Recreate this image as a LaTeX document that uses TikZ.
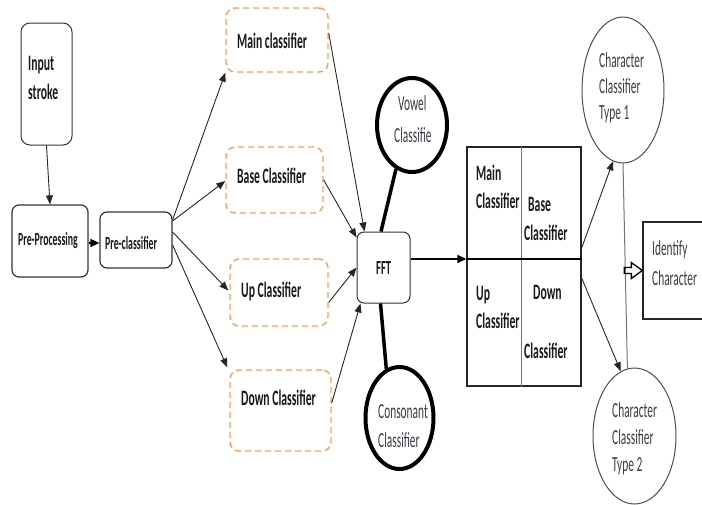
\documentclass[tikz,border=0pt]{standalone}
\usepackage{fontspec}
\setmainfont[FakeStretch=0.53]{Carlito}
\usetikzlibrary{arrows.meta,shapes.geometric}
\definecolor{dorange}{RGB}{246,160,90}
\definecolor{txtgray}{RGB}{60,60,70}
\tikzset{
  rbox/.style={draw=black!80, line width=1pt, rounded corners=7pt, inner sep=0pt},
  obox/.style={draw=dorange, line width=1.4pt, dash pattern=on 6pt off 4pt, rounded corners=9pt, inner sep=0pt},
  btxt/.style={inner sep=0pt, anchor=base west, font=\bfseries\fontsize{22}{26}\selectfont, text=black!90},
  stxt/.style={inner sep=0pt, anchor=base west, font=\bfseries\fontsize{18.5}{22}\selectfont, text=black!90},
  rtxt/.style={inner sep=0pt, anchor=base west, font=\fontsize{21.5}{26}\selectfont, text=txtgray},
  conn/.style={draw=black!85, line width=0.9pt, -{Triangle[length=9pt,width=7pt]}},
  tconn/.style={draw=black, line width=1.6pt, -{Triangle[length=9pt,width=8pt]}},
  thickc/.style={draw=black, line width=4pt},
  thickline/.style={draw=black, line width=3.5pt},
  gell/.style={ellipse, draw=black!70, line width=1pt, inner sep=0pt},
}
\begin{document}
\begin{tikzpicture}[x=1pt,y=-1pt]
\useasboundingbox (0,0) rectangle (702,504);
% left boxes
\node[rbox, minimum width=51pt, minimum height=122pt, rounded corners=9pt] (input) at (46.5,84) {};
\node[btxt] (tin1) at (28,70) {Input};
\node[btxt] (tin2) at (28,99) {stroke};
\node[rbox, line width=1.2pt, minimum width=76pt, minimum height=72pt] (prep) at (50,241) {};
\node[stxt] (tprep) at (18,245) {Pre-Processing};
\node[rbox, line width=1.2pt, minimum width=72pt, minimum height=56pt] (precl) at (136,240) {};
\node[stxt] (tprecl) at (105,249) {Pre-classifier};
\draw[conn] (input.south) -- (prep.north);
\draw[tconn, line width=1.4pt] ([yshift=-2pt]prep.east) -- ([yshift=-3pt]precl.west);
% orange dashed boxes
\node[obox, minimum width=102pt, minimum height=64pt] (main) at (277,40) {};
\node[btxt] (tmain) at (237,48) {Main classifier};
\node[obox, minimum width=97pt, minimum height=66pt] (base) at (274.5,180) {};
\node[btxt] (tbase) at (237,183) {Base Classifier};
\node[obox, minimum width=98pt, minimum height=67pt] (up) at (279,292.5) {};
\node[btxt] (tup) at (241,297) {Up Classifier};
\node[obox, minimum width=101pt, minimum height=81pt] (down) at (280.5,410.5) {};
\node[btxt] (tdown) at (241,405) {Down Classifier};
\draw[conn] ([yshift=20pt]precl.east) -- (main.south west);
\draw[conn] ([yshift=19pt]precl.east) -- ([yshift=-1pt]base.west);
\draw[conn] ([yshift=8pt]precl.east) -- ([xshift=-1pt,yshift=2pt]up.west);
\draw[conn] ([yshift=-5pt]precl.east) -- ([xshift=-2pt,yshift=2pt]down.north west);
% FFT
\node[rbox, minimum width=53pt, minimum height=71pt] (fft) at (383.5,267.5) {};
\node[btxt, font=\bfseries\fontsize{20}{24}\selectfont] (tfft) at (376,274) {FFT};
\draw[conn] ([yshift=7pt]main.east) -- ([xshift=8pt]fft.north west);
\draw[conn] (base.east) -- ([yshift=-6pt]fft.north west);
\draw[conn] ([yshift=-10pt]up.east) -- (fft.west);
\draw[conn] ([yshift=7.5pt]down.east) -- ([xshift=4pt]fft.south west);
% vowel and consonant
\node[ellipse, thickc, minimum width=70pt, minimum height=94pt, inner sep=0pt] (vowel) at (412,125) {};
\node[rtxt] (tv1) at (398,110) {Vowel};
\node[rtxt] (tv2) at (394,142) {Classifie};
\draw[thickline] (vowel.250) -- ([xshift=-2.5pt]fft.north);
\node[ellipse, thickc, minimum width=68pt, minimum height=102pt, inner sep=0pt] (cons) at (399.5,418) {};
\node[rtxt] (tc1) at (378,418) {Consonant};
\node[rtxt] (tc2) at (378,447) {Classifier};
\draw[thickline] ([xshift=-3pt]fft.south) -- (cons.105);
% table
\node[draw=black!85, line width=1.3pt, minimum width=114pt, minimum height=239pt, inner sep=0pt] (table) at (524,266.5) {};
\draw[draw=black!55, line width=1pt] ([xshift=-3pt]table.north) -- ([xshift=-3pt]table.south);
\draw[draw=black, line width=1.4pt] ([yshift=7.5pt]table.west) -- ([yshift=7.5pt]table.east);
\draw[tconn, line width=1.3pt] ([yshift=8.5pt]fft.east) -- ([yshift=7.5pt]table.west);
\node[btxt] (tt1) at (476,180) {Main};
\node[btxt] (tt2) at (476,208) {Classifier};
\node[btxt] (tt3) at (528,211) {Base};
\node[btxt] (tt4) at (524,240) {Classifier};
\node[btxt] (tt5) at (476,300) {Up};
\node[btxt] (tt6) at (476,328) {Classifier};
\node[btxt] (tt7) at (533,299) {Down};
\node[btxt] (tt8) at (524,358) {Classifier};
% character classifiers
\node[gell, minimum width=82pt, minimum height=146pt] (type1) at (623,90) {};
\node[rtxt] (ty11) at (599,67) {Character};
\node[rtxt] (ty12) at (599,93) {Classifier};
\node[rtxt] (ty13) at (599,119) {Type 1};
\node[gell, minimum width=83pt, minimum height=136pt] (type2) at (634.5,436) {};
\node[rtxt] (ty21) at (612,417) {Character};
\node[rtxt] (ty22) at (612,444) {Classifier};
\node[rtxt] (ty23) at (612,471) {Type 2};
\draw[conn] ([yshift=18.5pt]table.east) -- (type1.262);
\draw[conn] ([yshift=-11.5pt]table.east) -- (type2.102);
\draw[draw=black!55, line width=1pt] (type1.south) -- (type2.96);
% identify
\node[draw=black!85, line width=1.3pt, minimum width=77pt, minimum height=97pt, inner sep=0pt] (ident) at (681.5,270.5) {};
\node[rtxt] (tid1) at (652,255) {Identify};
\node[rtxt] (tid2) at (652,285) {Character};
\draw[draw=black, line width=1.3pt, line join=miter]
  ([shift={(-18pt,3pt)}]ident.west) -- ([shift={(-11pt,3pt)}]ident.west)
  -- ([shift={(-11pt,8pt)}]ident.west) -- (ident.west)
  -- ([shift={(-11pt,-8pt)}]ident.west) -- ([shift={(-11pt,-3pt)}]ident.west)
  -- ([shift={(-18pt,-3pt)}]ident.west) -- cycle;
\end{tikzpicture}
\end{document}
